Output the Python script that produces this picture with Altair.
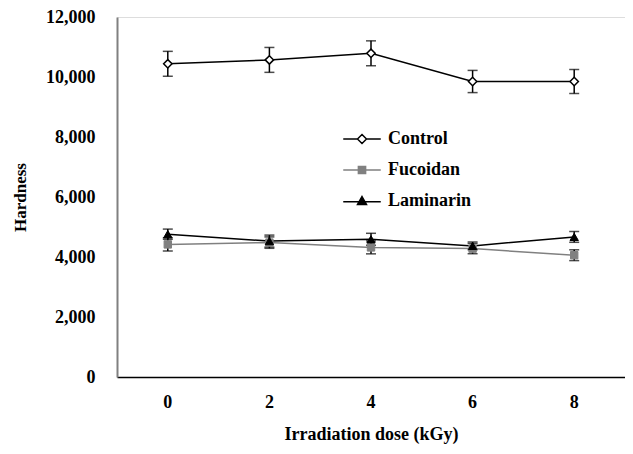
import altair as alt
import pandas as pd

doses = ["0", "2", "4", "6", "8"]
series_names = ["Control", "Fucoidan", "Laminarin"]
control = [10440, 10570, 10790, 9850, 9850]
control_err = [415, 415, 415, 370, 400]
fucoidan = [4420, 4480, 4320, 4280, 4060]
fucoidan_err = [220, 190, 215, 170, 180]
laminarin = [4760, 4530, 4590, 4370, 4670]
laminarin_err = [170, 200, 200, 130, 180]
y_ticks = [0, 2000, 4000, 6000, 8000, 10000, 12000]

rows = []
for name, vals, errs in [("Control", control, control_err),
                         ("Fucoidan", fucoidan, fucoidan_err),
                         ("Laminarin", laminarin, laminarin_err)]:
    for d, v, e in zip(doses, vals, errs):
        rows.append({"dose": d, "series": name, "value": v, "lo": v - e, "hi": v + e})
df = pd.DataFrame(rows)

FONT = "Liberation Serif"

x_enc = alt.X("dose:O", scale=alt.Scale(type="band", domain=doses, paddingInner=0, paddingOuter=0),
              axis=alt.Axis(title="Irradiation dose (kGy)", labelAngle=0, ticks=False,
                            domainColor="black", domainWidth=1.5,
                            labelFont=FONT, labelFontWeight="bold", labelFontSize=18, labelColor="black",
                            labelPadding=16, titleFont=FONT, titleFontWeight="bold", titleFontSize=18,
                            titleColor="black", titlePadding=14))
y_enc = alt.Y("value:Q", scale=alt.Scale(domain=[0, 12000], nice=False),
              axis=alt.Axis(title="Hardness", values=y_ticks, format=",.0f", ticks=False, grid=False,
                            domainColor="#808080", domainWidth=2,
                            labelFont=FONT, labelFontWeight="bold", labelFontSize=18, labelColor="black",
                            labelPadding=22, titleFont=FONT, titleFontWeight="bold", titleFontSize=17,
                            titleColor="black", titlePadding=16))

base = alt.Chart(df).encode(x=x_enc)

color_scale = alt.Scale(domain=series_names, range=["black", "#808080", "black"])

lines = base.mark_line(strokeWidth=1.5).encode(
    y=y_enc, color=alt.Color("series:N", scale=color_scale, legend=None),
    detail="series:N")

err_rule = base.mark_rule(color="black", strokeWidth=1.5).encode(y=alt.Y("lo:Q"), y2="hi:Q")
err_lo = base.mark_tick(color="black", thickness=1.5, size=10).encode(y=alt.Y("lo:Q"))
err_hi = base.mark_tick(color="black", thickness=1.5, size=10).encode(y=alt.Y("hi:Q"))

pt_control = base.transform_filter("datum.series == 'Control'").mark_point(
    shape="diamond", size=70, filled=True, fill="white", stroke="black", strokeWidth=1.5, opacity=1
).encode(y="value:Q")
pt_fuc = base.transform_filter("datum.series == 'Fucoidan'").mark_point(
    shape="square", size=55, filled=True, fill="#808080", stroke="#808080", strokeWidth=1, opacity=1
).encode(y="value:Q")
pt_lam = base.transform_filter("datum.series == 'Laminarin'").mark_point(
    shape="triangle-up", size=70, filled=True, fill="black", stroke="black", strokeWidth=1, opacity=1
).encode(y="value:Q")

legend_shapes = [
    "M-1.25,0L-0.3,0M0.3,0L1.25,0M0,-0.3L0.3,0L0,0.3L-0.3,0Z",
    "M-1.25,0L1.25,0M-0.24,-0.24L0.24,-0.24L0.24,0.24L-0.24,0.24Z",
    "M-1.25,0.05L1.25,0.05M0,-0.3L0.3,0.24L-0.3,0.24Z",
]
legend_fill = ["white", "#808080", "black"]
legend_stroke = ["black", "#808080", "black"]
legend_y = [106, 137, 168]


def legend_layer(i):
    leg = alt.Legend(title=None, orient="none", legendX=229, legendY=legend_y[i], padding=0,
                     symbolSize=900, symbolStrokeWidth=1.5, symbolOpacity=1,
                     labelFont=FONT, labelFontWeight="bold", labelFontSize=18, labelColor="black",
                     labelOffset=10, labelLimit=200)
    return alt.Chart(pd.DataFrame({"series": [series_names[i]]})).mark_point(
        filled=True, fill=legend_fill[i], stroke=legend_stroke[i], strokeWidth=1.5, opacity=0
    ).encode(
        shape=alt.Shape("series:N", scale=alt.Scale(domain=[series_names[i]], range=[legend_shapes[i]]),
                        legend=leg)
    )


chart = alt.layer(lines, err_rule, err_lo, err_hi, pt_control, pt_fuc, pt_lam,
                  legend_layer(0), legend_layer(1), legend_layer(2)).resolve_scale(
    shape="independent").resolve_legend(shape="independent").properties(
    width=508, height=360,
    autosize=alt.AutoSizeParams(type="none"),
    padding={"left": 109, "top": 9, "right": 0, "bottom": 69},
).configure_view(stroke=None).configure(background="white")

chart.save("out.html", embed_options={"renderer": "svg", "actions": False})
